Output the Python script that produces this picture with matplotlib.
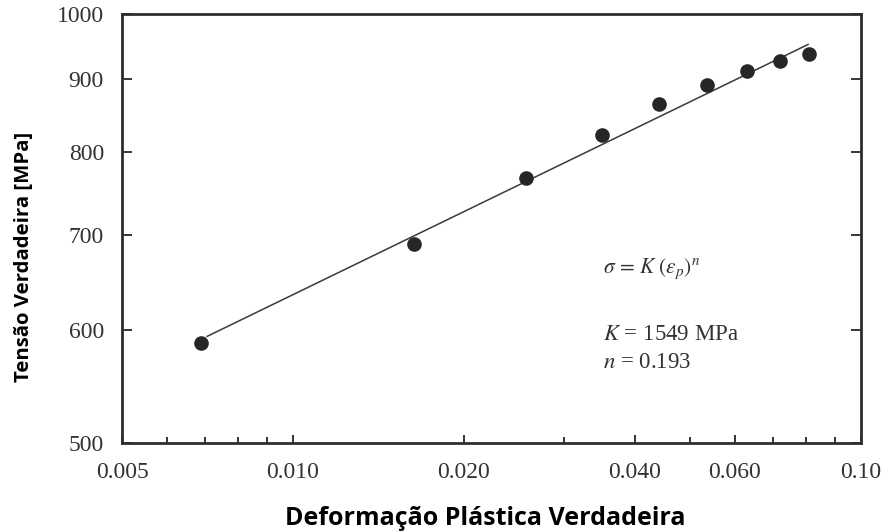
import matplotlib.pyplot as plt
from matplotlib.ticker import FixedLocator, NullFormatter

plt.rcParams['mathtext.fontset'] = 'stix'

# measured points (true plastic strain, true stress in MPa)
strain = [0.00689, 0.0163, 0.0257, 0.0350, 0.0441, 0.0536, 0.0630, 0.0720, 0.0810]
stress = [588, 690, 767, 822, 865, 891, 912, 927, 937]

# fitted power law line endpoints (K = 1549 MPa, n = 0.193)
fit_strain = [0.00706, 0.0807]
fit_stress = [594, 952]

xticks = [0.005, 0.010, 0.020, 0.040, 0.060, 0.10]
xticklabels = ['0.005', '0.010', '0.020', '0.040', '0.060', '0.10']
xminor = [0.006, 0.007, 0.008, 0.009, 0.03, 0.05, 0.07, 0.08, 0.09]
yticks = [500, 600, 700, 800, 900, 1000]

ink = '#262626'
serif = ['Liberation Serif', 'DejaVu Serif']

fig = plt.figure(figsize=(8.88, 5.32), dpi=100)
ax = fig.add_axes([0.1374, 0.1673, 0.8322, 0.8064])

ax.plot(fit_strain, fit_stress, '-', color='#3a3a3a', lw=1.1)
ax.plot(strain, stress, 'o', color=ink, ms=9.5, mec=ink)

ax.set_xscale('log')
ax.set_yscale('log')
ax.set_xlim(0.005, 0.10)
ax.set_ylim(500, 1000)

ax.xaxis.set_major_locator(FixedLocator(xticks))
ax.xaxis.set_minor_locator(FixedLocator(xminor))
ax.set_xticklabels(xticklabels)
ax.xaxis.set_minor_formatter(NullFormatter())
ax.yaxis.set_major_locator(FixedLocator(yticks))
ax.yaxis.set_minor_locator(FixedLocator([]))
ax.set_yticklabels([str(v) for v in yticks])

ax.tick_params(axis='x', which='both', direction='in', top=False, bottom=True,
               color=ink, width=1.3, pad=14)
ax.tick_params(axis='x', which='major', length=6)
ax.tick_params(axis='x', which='minor', length=4)
ax.tick_params(axis='y', which='major', direction='in', left=True, right=True,
               length=7, color=ink, width=1.3, pad=13)
for lab in ax.get_xticklabels() + ax.get_yticklabels():
    lab.set_family(serif)
    lab.set_fontsize(17)
    lab.set_color('#333333')

for sp in ax.spines.values():
    sp.set_color('#2e2e2e')
    sp.set_linewidth(2)

ax.text(0.0352, 663, r'$\sigma\,=\,K\;(\varepsilon_p)^n$', fontsize=15.5, color='#333333',
        va='center')
ax.text(0.0352, 596, r'$K$ = 1549 MPa', fontsize=16.5, color='#333333',
        family=serif, va='center')
ax.text(0.0352, 569, r'$n$ = 0.193', fontsize=16.5, color='#333333',
        family=serif, va='center')

fig.text(0.027, 0.517, 'Tensão Verdadeira [MPa]', rotation=90, ha='center', va='center',
         family=['Open Sans', 'DejaVu Sans'], fontweight='bold', fontsize=14.7, color='black')
fig.text(0.547, 0.026, 'Deformação Plástica Verdadeira', ha='center', va='center',
         family=['Open Sans', 'DejaVu Sans'], fontweight='bold', fontsize=18, color='black')

fig.savefig('out.png', dpi=100)
